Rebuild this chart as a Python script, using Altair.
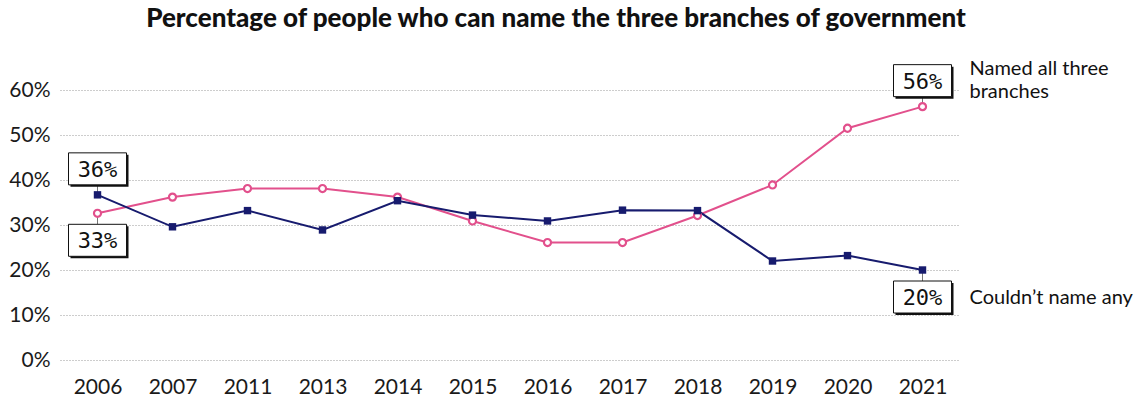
import altair as alt
import pandas as pd

years = ['2006', '2007', '2011', '2013', '2014', '2015', '2016', '2017', '2018', '2019', '2020', '2021']
named_all = [32.6, 36.2, 38.1, 38.1, 36.2, 30.9, 26.1, 26.1, 32.1, 38.9, 51.5, 56.3]
named_none = [36.7, 29.6, 33.2, 28.9, 35.4, 32.2, 30.9, 33.3, 33.2, 22.0, 23.2, 20.0]

series_names = ['Named all three branches', "Couldn't name any"]

# annotation boxes
ann_years = ['2006', '2021']
ann_up_labels = ['36%', '56%']
ann_up_values = [36.7, 56.3]
ann_down_labels = ['33%', '20%']
ann_down_values = [32.6, 20.0]

side_labels = [['Named all three', 'branches'], ["Couldn\u2019t name any"]]

PINK = '#e2508c'
NAVY = '#171b6e'

df = pd.DataFrame({
    'year': years * 2,
    'value': named_all + named_none,
    'series': [series_names[0]] * len(years) + [series_names[1]] * len(years),
})
pink_df = df[df.series == series_names[0]]
navy_df = df[df.series == series_names[1]]

up_df = pd.DataFrame({'year': ann_years, 'value': ann_up_values, 'label': ann_up_labels})
down_df = pd.DataFrame({'year': ann_years, 'value': ann_down_values, 'label': ann_down_labels})

XSCALE = alt.Scale(type='point', padding=0.5, domain=years)
YSCALE = alt.Scale(domain=[0, 60])

x_enc = alt.X('year:O', sort=years, scale=XSCALE,
              axis=alt.Axis(title=None, labelAngle=0, labelAlign='center', labelBaseline='top',
                            labelFont='Lato', labelFontSize=21,
                            labelColor='#1a1a1a', domain=False, ticks=False, labelPadding=16,
                            grid=False))
y_enc = alt.Y('value:Q', scale=YSCALE,
              axis=alt.Axis(title=None, values=[0, 10, 20, 30, 40, 50, 60],
                            labelExpr="datum.value + '%'", labelFont='Lato', labelFontSize=21,
                            labelColor='#1a1a1a', domain=False, ticks=False, labelPadding=10,
                            grid=True, gridColor='#9a9a9a', gridDash=[1, 2], gridWidth=1))

xs = alt.X('year:O', sort=years, scale=XSCALE)
ys = alt.Y('value:Q', scale=YSCALE)

pink_line = alt.Chart(pink_df).mark_line(color=PINK, strokeWidth=2).encode(x=x_enc, y=y_enc)
navy_line = alt.Chart(navy_df).mark_line(color=NAVY, strokeWidth=2).encode(x=xs, y=ys)
pink_pts = alt.Chart(pink_df).mark_point(shape='circle', size=50, filled=False, fill='white',
                                          color=PINK, strokeWidth=2.2, opacity=1).encode(x=xs, y=ys)
navy_pts = alt.Chart(navy_df).mark_point(shape='square', size=55, filled=True, color=NAVY,
                                          opacity=1).encode(x=xs, y=ys)


def ann_layers(d, top, bottom):
    lead = alt.Chart(d).mark_rule(color='#777', strokeWidth=1,
                                  y2Offset=(top if top > 0 else bottom)).encode(
        x=xs, y=ys, y2='value:Q')
    shadow = alt.Chart(d).mark_rect(color='#111', xOffset=-27, x2Offset=31,
                                    yOffset=top + 2, y2Offset=bottom + 2).encode(
        x=xs, x2='year:O', y=ys, y2='value:Q')
    box = alt.Chart(d).mark_rect(fill='white', stroke='#111', strokeWidth=1, xOffset=-29, x2Offset=29,
                                 yOffset=top, y2Offset=bottom).encode(
        x=xs, x2='year:O', y=ys, y2='value:Q')
    txt = alt.Chart(d).mark_text(font='DejaVu Sans Mono', fontSize=22, color='#111',
                                 baseline='middle', align='center',
                                 dy=(top + bottom) / 2 + 1).encode(x=xs, y=ys, text='label:N')
    return [lead, shadow, box, txt]


up_layers = ann_layers(up_df, -42, -10)
down_layers = ann_layers(down_df, 11, 43)

side_named = alt.Chart(pd.DataFrame({'year': ['2021'], 'value': [named_all[-1]], 'label': [side_labels[0]]})).mark_text(
    font='Lato', fontSize=20, color='#111', align='left', baseline='alphabetic',
    dx=47, dy=-32, lineHeight=23).encode(x=xs, y=ys, text='label')
side_none = alt.Chart(pd.DataFrame({'year': ['2021'], 'value': [named_none[-1]], 'label': [side_labels[1]]})).mark_text(
    font='Lato', fontSize=20, color='#111', align='left', baseline='alphabetic',
    dx=47, dy=34).encode(x=xs, y=ys, text='label')

chart = alt.layer(
    up_layers[0], down_layers[0],
    pink_line, navy_line, pink_pts, navy_pts,
    *up_layers[1:], *down_layers[1:],
    side_named, side_none,
).properties(
    width=900, height=270,
    title=alt.Title('Percentage of people who can name the three branches of government',
                    font='Lato', fontSize=26, fontWeight=900, color='#111', anchor='middle',
                    dx=46, offset=6, baseline='alphabetic'),
    autosize=alt.AutoSizeParams(type='none'),
    padding={'left': 60, 'top': 90, 'right': 180, 'bottom': 37},
).configure(background='white').configure_view(stroke=None)

chart.save('out.html', embed_options={'renderer': 'svg', 'actions': False})
